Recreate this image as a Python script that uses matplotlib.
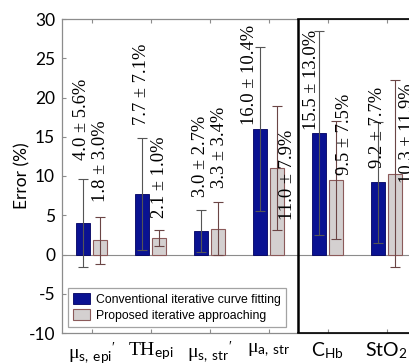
import numpy as np
import matplotlib
matplotlib.use("Agg")
import matplotlib.pyplot as plt

# parameters and their error statistics (mean ± sd, in %)
params = [r"$\mathrm{\mu}_{\mathsf{s,\ epi}}{}^{\prime}$",
          r"$\mathrm{TH}_{\mathsf{epi}}$",
          r"$\mathrm{\mu}_{\mathsf{s,\ str}}{}^{\prime}$",
          r"$\mathrm{\mu}_{\mathsf{a,\ str}}$",
          r"$\mathsf{C}_{\mathsf{Hb}}$",
          r"$\mathsf{StO}_{\mathsf{2}}$"]
conv_mean = [4.0, 7.7, 3.0, 16.0, 15.5, 9.2]
conv_std = [5.6, 7.1, 2.7, 10.4, 13.0, 7.7]
prop_mean = [1.8, 2.1, 3.3, 11.0, 9.5, 10.3]
prop_std = [3.0, 1.0, 3.4, 7.9, 7.5, 11.9]
series_names = ["Conventional iterative curve fitting",
                "Proposed iterative approaching"]
yticks = [-10, -5, 0, 5, 10, 15, 20, 25, 30]

# where the rotated value labels sit (bottom of text, sideways shift)
conv_lab_y = [12.1, 16.5, 7.3, 16.5, 15.9, 11.0]
conv_lab_dx = [-0.02, 0.0, 0.0, -0.17, -0.12, 0.0]
prop_lab_y = [6.7, 4.7, 8.5, 4.4, 10.1, 9.1]
prop_lab_dx = [0.0, 0.0, 0.03, 0.17, 0.15, 0.21]

plt.rcParams['mathtext.fontset'] = 'custom'
plt.rcParams['mathtext.rm'] = 'Liberation Serif'
plt.rcParams['mathtext.it'] = 'Liberation Serif:italic'
plt.rcParams['mathtext.sf'] = 'Lato'

blue = '#0a1292'
grey = '#d4d0d0'
spine_grey = '#8c8c8c'

fig = plt.figure(figsize=(4.09, 3.63), dpi=100)
# the axes run on past the right edge of the figure
ax = fig.add_axes([62 / 409, 30 / 363, 354 / 409, 314 / 363])

x = np.arange(len(params))
w = 0.23
off = 0.145
ax.bar(x - off, conv_mean, w, yerr=conv_std, color=blue, edgecolor='#000060',
       linewidth=0.6, label=series_names[0], zorder=2,
       error_kw=dict(ecolor='#555555', elinewidth=0.8, capsize=3.5, capthick=0.8))
ax.bar(x + off, prop_mean, w, yerr=prop_std, color=grey, edgecolor='#8b5a5a',
       linewidth=0.8, label=series_names[1], zorder=2,
       error_kw=dict(ecolor='#6b4545', elinewidth=0.8, capsize=3.5, capthick=0.8))

for i in range(len(params)):
    ax.text(x[i] - off + conv_lab_dx[i], conv_lab_y[i],
            f"{conv_mean[i]:.1f} ± {conv_std[i]:.1f}%", rotation=90,
            ha='center', va='bottom', fontsize=13.3, family='Liberation Serif',
            zorder=3)
    ax.text(x[i] + off + prop_lab_dx[i], prop_lab_y[i],
            f"{prop_mean[i]:.1f} ± {prop_std[i]:.1f}%", rotation=90,
            ha='center', va='bottom', fontsize=13.3, family='Liberation Serif',
            zorder=3)

ax.axhline(0, color=spine_grey, lw=0.8, zorder=1)
ax.axvline(3.5, color='black', lw=1.8, zorder=4)
for yy in (0, 1):
    ax.plot([3.5, 5.5], [yy, yy], color='black', lw=1.2,
            transform=ax.get_xaxis_transform(), clip_on=False, zorder=5)

ax.set_xlim(-0.5, 5.5)
ax.set_ylim(-10, 30)
ax.set_yticks(yticks)
ax.set_yticklabels([str(v) for v in yticks], family='Lato', fontsize=12.5)
ax.set_xticks(x)
ax.set_xticklabels(params, fontsize=14)
ax.tick_params(axis='both', direction='in', length=3, color=spine_grey,
               top=True, right=False)
ax.tick_params(axis='x', pad=5)
ax.tick_params(axis='y', pad=5)
for s in ('left', 'top', 'bottom'):
    ax.spines[s].set_color(spine_grey)
    ax.spines[s].set_linewidth(0.9)
ax.spines['right'].set_visible(False)

ax.set_ylabel("Error (%)", family='Lato', fontsize=12.5, labelpad=-1)

leg = ax.legend(loc='lower left', bbox_to_anchor=(0.017, 0.019),
                borderaxespad=0, fancybox=False, edgecolor=spine_grey,
                prop={'family': 'Liberation Sans', 'size': 8.8},
                handlelength=1.4, handleheight=1.0, handletextpad=0.5,
                labelspacing=0.3, borderpad=0.4)
leg.get_frame().set_linewidth(0.9)
leg.set_zorder(6)

fig.savefig("out.png", dpi=100)
